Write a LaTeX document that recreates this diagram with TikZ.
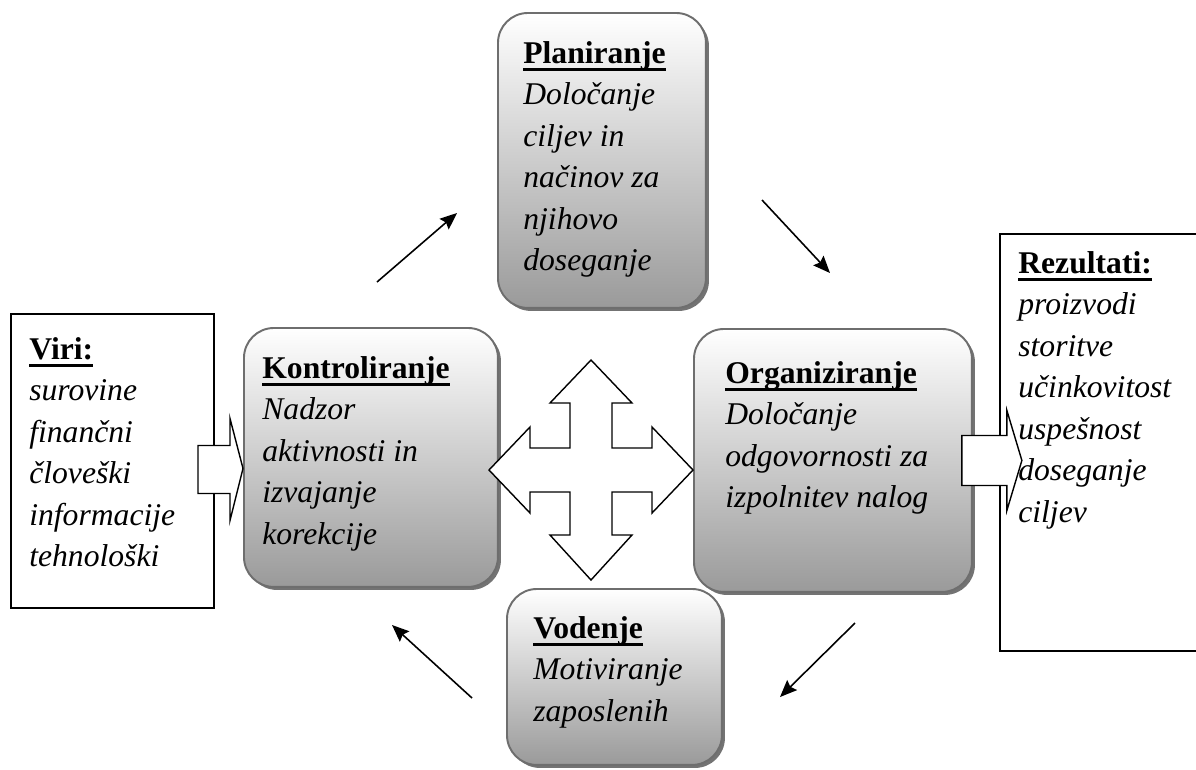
\documentclass[tikz,border=0pt]{standalone}
\usepackage{fontspec}
\setmainfont{Liberation Serif}
\usetikzlibrary{arrows.meta,positioning,shadows}
\definecolor{rim}{HTML}{6E6E6E}
\definecolor{shade}{HTML}{9A9A9A}
\newcommand{\ttl}[1]{\setbox0\hbox{\textbf{\upshape #1}}\rlap{\rule[-4.3pt]{\wd0}{1.6pt}}\box0}

\begin{document}
\begin{tikzpicture}[x=0.02cm,y=-0.02cm,
  task/.style={draw=rim,line width=1.1pt,rounded corners=0.6cm,top color=white,bottom color=shade,
    anchor=north west,inner sep=0,drop shadow={shadow xshift=0.06cm,shadow yshift=-0.06cm,fill=black!55,opacity=1}},
  frame/.style={draw,line width=0.9pt,fill=white,anchor=north west,inner sep=0},
  txt/.style={anchor=north west,align=left,inner sep=0,font=\fontsize{18}{23.6}\selectfont\itshape},
  cyc/.style={-{Stealth[length=0.34cm,width=0.28cm,inset=0.05cm]},line width=0.9pt},
  bigarrow/.style={draw,line width=0.8pt,fill=white,line join=miter}]
\useasboundingbox (0,0) rectangle (1196,769);
\node[frame,minimum width=4.06cm,minimum height=5.88cm] (viri) at (10,313) {};
\node[frame,minimum width=4.3cm,minimum height=8.34cm] (rez) at (999,233) {};
\node[task,minimum width=4.16cm,minimum height=5.9cm] (plan) at (497,12) {};
\node[task,minimum width=5.08cm,minimum height=5.18cm] (kontrol) at (243,327) {};
\node[task,minimum width=5.56cm,minimum height=5.26cm] (organ) at (693,328) {};
\node[task,minimum width=4.3cm,minimum height=3.52cm] (voden) at (506,588) {};

\node[txt] (viritxt) at (29,337) {\ttl{Viri:}\\surovine\\finančni\\človeški\\informacije\\tehnološki};
\node[txt] (reztxt) at (1018,251) {\ttl{Rezultati:}\\proizvodi\\storitve\\učinkovitost\\uspešnost\\doseganje\\ciljev};
\node[txt] (plantxt) at (523,41) {\ttl{Planiranje}\\Določanje\\ciljev in\\načinov za\\njihovo\\doseganje};
\node[txt] (kontxt) at (262,356) {\ttl{Kontroliranje}\\Nadzor\\aktivnosti in\\izvajanje\\korekcije};
\node[txt] (orgtxt) at (725,361) {\ttl{Organiziranje}\\Določanje\\odgovornosti za\\izpolnitev nalog};
\node[txt] (vodtxt) at (533,616) {\ttl{Vodenje}\\Motiviranje\\zaposlenih};

\begin{scope}[shift={(kontrol.west)}]
  \draw[bigarrow] (-45,-12) -- (-13,-12) -- (-13,-39) -- (0,11) -- (-13,63) -- (-13,36) -- (-45,36) -- cycle;
\end{scope}
\begin{scope}[shift={(organ.east)}]
  \draw[bigarrow] (-11,-25) -- (34,-25) -- (34,-50) -- (49,0) -- (34,50) -- (34,25) -- (-11,25) -- cycle;
\end{scope}

\coordinate (hub) at (591,470);
\begin{scope}[shift={(hub)}]
  \draw[bigarrow] (0,-110) -- (41,-67) -- (21,-67) -- (21,-22) -- (61,-22) -- (61,-43) -- (102,0)
    -- (61,43) -- (61,22) -- (21,22) -- (21,65) -- (41,65) -- (0,110) -- (-41,65) -- (-21,65)
    -- (-21,22) -- (-61,22) -- (-61,43) -- (-102,0) -- (-61,-43) -- (-61,-22) -- (-21,-22)
    -- (-21,-67) -- (-41,-67) -- cycle;
\end{scope}

\coordinate (k2p) at (377,282);
\coordinate (p2k) at (457,213);
\coordinate (p2o) at (762,200);
\coordinate (o2p) at (830,273);
\coordinate (o2v) at (855,623);
\coordinate (v2o) at (780,697);
\coordinate (v2k) at (472,698);
\coordinate (k2v) at (392,625);
\draw[cyc] (k2p) -- (p2k);
\draw[cyc] (p2o) -- (o2p);
\draw[cyc] (o2v) -- (v2o);
\draw[cyc] (v2k) -- (k2v);
\end{tikzpicture}
\end{document}
